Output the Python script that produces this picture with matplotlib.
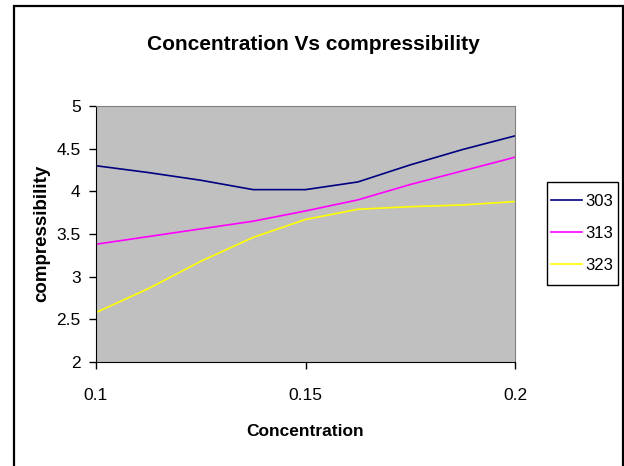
import matplotlib
matplotlib.use("Agg")
import matplotlib.pyplot as plt
from matplotlib.patches import Rectangle

plt.rcParams['font.family'] = ['Liberation Sans', 'DejaVu Sans']

concentration = [0.1, 0.1125, 0.125, 0.1375, 0.15, 0.1625, 0.175, 0.1875, 0.2]
s303 = [4.30, 4.22, 4.13, 4.02, 4.02, 4.11, 4.31, 4.49, 4.65]
s313 = [3.38, 3.47, 3.56, 3.65, 3.77, 3.90, 4.08, 4.24, 4.40]
s323 = [2.58, 2.86, 3.18, 3.46, 3.67, 3.79, 3.82, 3.84, 3.88]
labels = ['303', '313', '323']
colors = ['#000080', '#FF00FF', '#FFFF00']
yticks = [2, 2.5, 3, 3.5, 4, 4.5, 5]
xticks = [0.1, 0.15, 0.2]

W, H = 624, 466
fig = plt.figure(figsize=(W/100, H/100), dpi=100)
fig.patches.append(Rectangle((14/W, -0.01), (622.5-14)/W, (H-6)/H + 0.01,
                             transform=fig.transFigure, fill=False, edgecolor='black', linewidth=1.6))
ax = fig.add_axes([96/W, (H-362)/H, (515-96)/W, (362-106)/H])
ax.set_facecolor('#C0C0C0')

for ys, lab, c in zip([s303, s313, s323], labels, colors):
    ax.plot(concentration, ys, color=c, linewidth=1.2, label=lab, solid_joinstyle='round')

ax.set_xlim(0.1, 0.2)
ax.set_ylim(2, 5)
ax.set_xticks(xticks)
ax.set_xticklabels(['0.1', '0.15', '0.2'])
ax.set_yticks(yticks)
ax.set_yticklabels(['2', '2.5', '3', '3.5', '4', '4.5', '5'])
ax.tick_params(direction='out', length=5, width=1, labelsize=12.5)
ax.tick_params(axis='y', pad=6)
ax.tick_params(axis='x', pad=14)
for s in ['top', 'right']:
    ax.spines[s].set_color('#808080')
for s in ['left', 'bottom']:
    ax.spines[s].set_color('black')

fig.text(313/W, 1 - 45/H, 'Concentration Vs compressibility', ha='center', va='center',
         fontsize=15, fontweight='bold')
fig.text(305.5/W, 1 - 432/H, 'Concentration', ha='center', va='center', fontsize=12.5, fontweight='bold')
fig.text(42/W, 1 - 233/H, 'compressibility', ha='center', va='center', rotation=90,
         fontsize=13.5, fontweight='bold')

# legend box
bx0, by0, bx1, by1 = 546.7, 181.7, 618, 285
fig.patches.append(Rectangle((bx0/W, 1 - by1/H), (bx1-bx0)/W, (by1-by0)/H,
                             transform=fig.transFigure, fill=False, edgecolor='black', linewidth=1.0))
leg = fig.legend(loc='center', bbox_to_anchor=((bx0+bx1)/2/W, 1 - (by0+by1)/2/H), fontsize=12,
                 frameon=False, handlelength=1.85, handletextpad=0.2, borderpad=0.0,
                 labelspacing=1.0, borderaxespad=0)

fig.savefig('out.png', dpi=100)
